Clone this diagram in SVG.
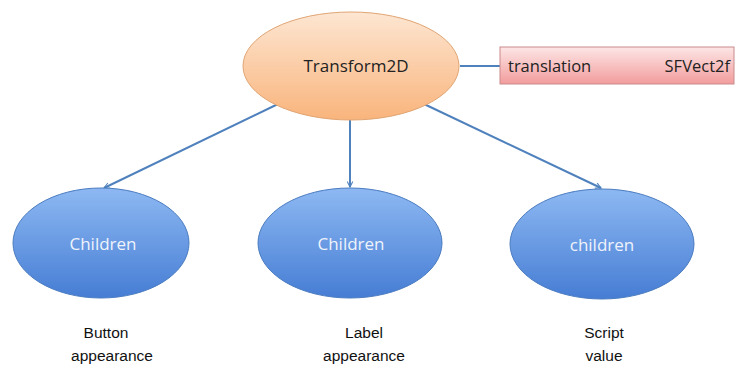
<svg xmlns="http://www.w3.org/2000/svg" width="737" height="369" viewBox="0 0 737 369">
<defs>
<linearGradient id="gOr" x1="0" y1="0" x2="0" y2="1"><stop offset="0" stop-color="#fde6d2"/><stop offset="1" stop-color="#f9b47c"/></linearGradient>
<linearGradient id="gBl" x1="0" y1="0" x2="0" y2="1"><stop offset="0" stop-color="#8db8f2"/><stop offset="1" stop-color="#467dd4"/></linearGradient>
<linearGradient id="gPk" x1="0" y1="0" x2="0" y2="1"><stop offset="0" stop-color="#fde6e6"/><stop offset="1" stop-color="#f29c9c"/></linearGradient>
<marker id="arr" viewBox="0 0 10 10" refX="9" refY="5" markerWidth="7" markerHeight="7" orient="auto" markerUnits="userSpaceOnUse"><path d="M1,1 L9,5 L1,9" fill="none" stroke="#4f81bd" stroke-width="1.5"/></marker>
<style>
.con{stroke:#4f81bd;stroke-width:2;fill:none}
.nt{font-family:"Open Sans","Liberation Sans",sans-serif;font-size:17px;text-anchor:middle}
.wt{fill:#eef3fb}
.lb{font-family:"Liberation Sans",Arial,sans-serif;font-size:15.5px;text-anchor:middle;fill:#111}
</style>
</defs>
<rect width="737" height="369" fill="#ffffff"/>
<g id="connectors">
<line class="con" x1="460" y1="66" x2="500" y2="66"/>
<line class="con" x1="278" y1="104" x2="104" y2="188" marker-end="url(#arr)"/>
<line class="con" x1="350" y1="120" x2="350" y2="187" marker-end="url(#arr)"/>
<line class="con" x1="424" y1="104" x2="601" y2="188" marker-end="url(#arr)"/>
</g>
<g id="transform2d">
<ellipse cx="351" cy="66" rx="108" ry="54" fill="url(#gOr)" stroke="#e0a574" stroke-width="1"/>
<text class="nt" x="356" y="72" fill="#222">Transform2D</text>
</g>
<g id="translation">
<rect x="500" y="47" width="234" height="37" fill="url(#gPk)" stroke="#c98a8a" stroke-width="1"/>
<text x="508" y="72" font-family="'Open Sans','Liberation Sans',sans-serif" font-size="16.5" fill="#222">translation</text>
<text x="730" y="72" font-family="'Open Sans','Liberation Sans',sans-serif" font-size="16.5" fill="#222" text-anchor="end">SFVect2f</text>
</g>
<g id="child1">
<ellipse cx="101" cy="243" rx="88" ry="55" fill="url(#gBl)" stroke="#4b7cc0" stroke-width="1"/>
<text class="nt wt" x="103" y="250">Children</text>
</g>
<g id="child2">
<ellipse cx="350" cy="243" rx="92" ry="55" fill="url(#gBl)" stroke="#4b7cc0" stroke-width="1"/>
<text class="nt wt" x="351" y="250">Children</text>
</g>
<g id="child3">
<ellipse cx="602" cy="244" rx="92" ry="55" fill="url(#gBl)" stroke="#4b7cc0" stroke-width="1"/>
<text class="nt wt" x="602" y="251">children</text>
</g>
<g id="labels">
<text class="lb" x="106" y="338">Button</text>
<text class="lb" x="112" y="361">appearance</text>
<text class="lb" x="364" y="338">Label</text>
<text class="lb" x="364" y="361">appearance</text>
<text class="lb" x="604" y="338">Script</text>
<text class="lb" x="604" y="361">value</text>
</g>
</svg>
